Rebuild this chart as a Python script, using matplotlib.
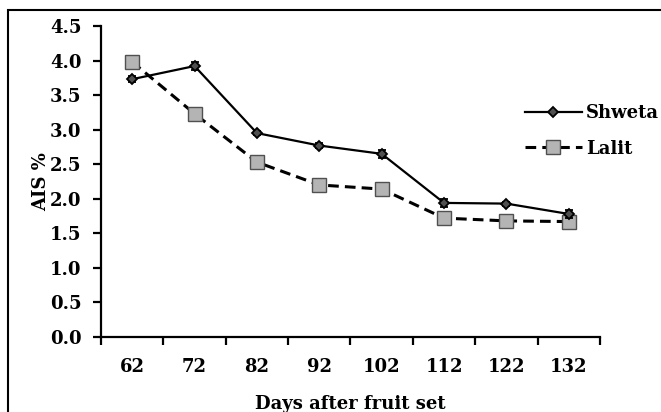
import numpy as np
import matplotlib.pyplot as plt
from matplotlib.patches import Rectangle
from matplotlib.lines import Line2D

# Data
days = ['62', '72', '82', '92', '102', '112', '122', '132']
shweta = [3.73, 3.92, 2.95, 2.77, 2.65, 1.94, 1.93, 1.78]
shweta_err = [0.04, 0.06, 0.03, 0.03, 0.06, 0.06, 0.03, 0.06]
lalit = [3.98, 3.23, 2.53, 2.20, 2.14, 1.72, 1.68, 1.67]
lalit_err = [0.05, 0.04, 0.04, 0.03, 0.03, 0.04, 0.03, 0.04]

plt.rcParams['font.family'] = ['DejaVu Serif']
plt.rcParams['font.weight'] = 'bold'

fig = plt.figure(figsize=(6.61, 4.12), dpi=100)
ax = fig.add_axes([0.1528, 0.182, 0.7549, 0.755])

x = np.arange(len(days))

lalit_style = dict(color='black', linestyle=(0, (3.5, 2)), linewidth=2.2,
                   marker='s', markersize=10, markerfacecolor='#b4b4b4',
                   markeredgecolor='#505050', markeredgewidth=1)
shweta_style = dict(color='black', linestyle='-', linewidth=1.6,
                    marker='D', markersize=5.5, markerfacecolor='#505050',
                    markeredgecolor='black', markeredgewidth=1.3)

ax.errorbar(x, lalit, yerr=lalit_err, capsize=3, elinewidth=1, zorder=2,
            **lalit_style)
ax.errorbar(x, shweta, yerr=shweta_err, capsize=3, elinewidth=1, zorder=3,
            **shweta_style)

ax.set_xlim(-0.5, len(days) - 0.5)
ax.set_ylim(0, 4.5)
yt = np.arange(0, 4.51, 0.5)
ax.set_yticks(yt)
ax.set_yticklabels([f'{v:.1f}' for v in yt])

# category labels at centers, tick marks between categories
ax.set_xticks(np.arange(-0.5, len(days), 1.0))
ax.set_xticklabels([])
ax.set_xticks(x, minor=True)
ax.set_xticklabels(days, minor=True)
ax.tick_params(axis='x', which='major', direction='out', length=6, width=1.6)
ax.tick_params(axis='x', which='minor', length=0, pad=15, labelsize=13)
ax.tick_params(axis='y', direction='out', length=6, width=1.6, labelsize=13, pad=8)

for s in ['top', 'right']:
    ax.spines[s].set_visible(False)
for s in ['left', 'bottom']:
    ax.spines[s].set_linewidth(1.6)

ax.set_ylabel('AIS %', fontsize=13, fontweight='bold')
ax.yaxis.set_label_coords(-0.101, 0.5)
ax.set_xlabel('Days after fruit set', fontsize=13, fontweight='bold', labelpad=14)

handles = [Line2D([], [], **shweta_style), Line2D([], [], **lalit_style)]
ax.legend(handles, ['Shweta', 'Lalit'], loc='center left',
          bbox_to_anchor=(0.769, 0.682), bbox_transform=fig.transFigure,
          frameon=False, fontsize=13, handlelength=3.2, handletextpad=0.2,
          labelspacing=0.95)

# outer frame of the original image
fig.patches.append(Rectangle((8 / 661, -0.05), 1.2, 1 - 10 / 412 + 0.05,
                             transform=fig.transFigure, fill=False,
                             edgecolor='black', linewidth=1.5))

fig.savefig('out.png', dpi=100)
